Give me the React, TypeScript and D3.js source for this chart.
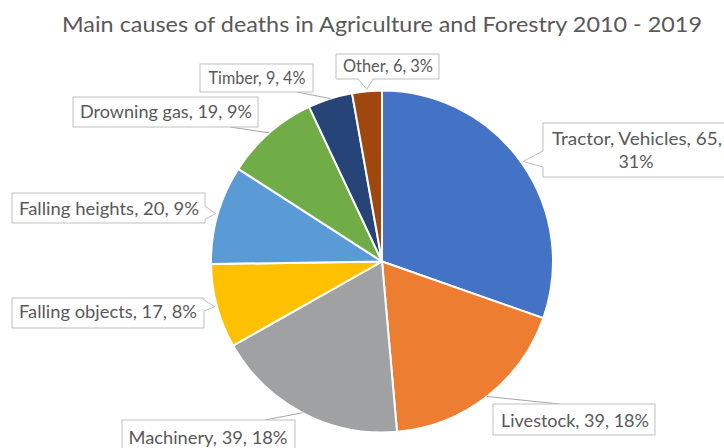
import React from "react";
import * as d3 from "d3";

const title = "Main causes of deaths in Agriculture and Forestry 2010 - 2019";
const categories = [
  "Tractor, Vehicles",
  "Livestock",
  "Machinery",
  "Falling objects",
  "Falling heights",
  "Drowning gas",
  "Timber",
  "Other",
];
const values = [65, 39, 39, 17, 20, 19, 9, 6];
const percentLabels = ["31%", "18%", "18%", "8%", "9%", "9%", "4%", "3%"];
const colors = [
  "#4472C4",
  "#ED7D31",
  "#A0A1A3",
  "#FFC000",
  "#5B9BD5",
  "#70AD47",
  "#264478",
  "#9E480E",
];

// Label placement (layout only)
type Box = { x: number; y: number; w: number; h: number };
type LabelLayout = {
  box: Box;
  kind: "left" | "right" | "bottom" | "leader";
  base?: [number, number];
  from?: [number, number];
  split?: boolean;
  lines: { cx: number; y: number; w: number }[];
};
const labelLayout: LabelLayout[] = [
  { box: { x: 543, y: 123, w: 188, h: 54 }, kind: "left", base: [151, 167], split: true,
    lines: [{ cx: 637, y: 145, w: 170 }, { cx: 636, y: 168, w: 35 }] },
  { box: { x: 493, y: 404, w: 162, h: 31 }, kind: "leader", from: [560, 404],
    lines: [{ cx: 575, y: 427, w: 148 }] },
  { box: { x: 122, y: 420, w: 173, h: 34 }, kind: "leader", from: [265, 420],
    lines: [{ cx: 208, y: 444, w: 159 }] },
  { box: { x: 12, y: 298, w: 192, h: 30 }, kind: "right", base: [300, 311],
    lines: [{ cx: 108, y: 318, w: 178 }] },
  { box: { x: 12, y: 193, w: 193, h: 30 }, kind: "right", base: [206, 219],
    lines: [{ cx: 109, y: 215, w: 180 }] },
  { box: { x: 73, y: 97, w: 185, h: 30 }, kind: "leader", from: [230, 127],
    lines: [{ cx: 166, y: 118, w: 172 }] },
  { box: { x: 200, y: 64, w: 113, h: 28 }, kind: "leader", from: [297, 92],
    lines: [{ cx: 257, y: 84, w: 97 }] },
  { box: { x: 336, y: 54, w: 103, h: 25 }, kind: "bottom", base: [358, 373],
    lines: [{ cx: 388, y: 72, w: 90 }] },
];

const W = 724;
const H = 448;
const cx = 382;
const cy = 261.5;
const R = 171;
const FONT = "Lato, 'Open Sans', sans-serif";
const TEXT = "#595959";

function calloutPath(b: Box, kind: string, base: [number, number], tip: [number, number]) {
  const { x, y, w, h } = b;
  const p = d3.path();
  if (kind === "bottom") {
    p.moveTo(x, y); p.lineTo(x + w, y); p.lineTo(x + w, y + h);
    p.lineTo(base[1], y + h); p.lineTo(tip[0], tip[1]); p.lineTo(base[0], y + h);
    p.lineTo(x, y + h); p.closePath();
  } else if (kind === "right") {
    p.moveTo(x, y); p.lineTo(x + w, y); p.lineTo(x + w, base[0]);
    p.lineTo(tip[0], tip[1]); p.lineTo(x + w, base[1]); p.lineTo(x + w, y + h);
    p.lineTo(x, y + h); p.closePath();
  } else {
    p.moveTo(x, y); p.lineTo(x + w, y); p.lineTo(x + w, y + h);
    p.lineTo(x, y + h); p.lineTo(x, base[1]); p.lineTo(tip[0], tip[1]);
    p.lineTo(x, base[0]); p.closePath();
  }
  return p.toString();
}

export default function App() {
  const arcs = d3.pie<number>().sort(null).value((d) => d)(values);
  const arcGen = d3.arc<d3.PieArcDatum<number>>().innerRadius(0).outerRadius(R);
  const anchor = (a: d3.PieArcDatum<number>, off: number): [number, number] => {
    const m = (a.startAngle + a.endAngle) / 2;
    return [cx + (R + off) * Math.sin(m), cy - (R + off) * Math.cos(m)];
  };

  return (
    <svg width={W} height={H} style={{ position: "fixed", left: 0, top: 0, background: "#fff" }}>
      <rect width={W} height={H} fill="#fff" />
      <text x={382} y={32} textAnchor="middle" fontFamily={FONT} fontSize={22} fill={TEXT}
        textLength={640} lengthAdjust="spacingAndGlyphs">{title}</text>
      <g transform={`translate(${cx},${cy})`}>
        {arcs.map((a, i) => (
          <path key={i} d={arcGen(a) || ""} fill={colors[i]} stroke="#fff" strokeWidth={2} strokeLinejoin="round" />
        ))}
      </g>
      {arcs.map((a, i) => {
        const L = labelLayout[i];
        const full = `${categories[i]}, ${values[i]}, ${percentLabels[i]}`;
        const texts = L.split ? [`${categories[i]}, ${values[i]},`, percentLabels[i]] : [full];
        const tip = anchor(a, 2);
        return (
          <g key={i}>
            {L.kind === "leader" ? (
              <>
                <line x1={L.from![0]} y1={L.from![1]} x2={anchor(a, 0)[0]} y2={anchor(a, 0)[1]} stroke="#a6a6a6" strokeWidth={1} />
                <rect x={L.box.x} y={L.box.y} width={L.box.w} height={L.box.h} fill="#fff" stroke="#bfbfbf" strokeWidth={1} />
              </>
            ) : (
              <path d={calloutPath(L.box, L.kind, L.base!, tip)} fill="#fff" stroke="#bfbfbf" strokeWidth={1} />
            )}
            {texts.map((t, j) => (
              <text key={j} x={L.lines[j].cx} y={L.lines[j].y} textAnchor="middle" fontFamily={FONT} fontSize={17}
                fill={TEXT} textLength={L.lines[j].w} lengthAdjust="spacingAndGlyphs">{t}</text>
            ))}
          </g>
        );
      })}
    </svg>
  );
}
